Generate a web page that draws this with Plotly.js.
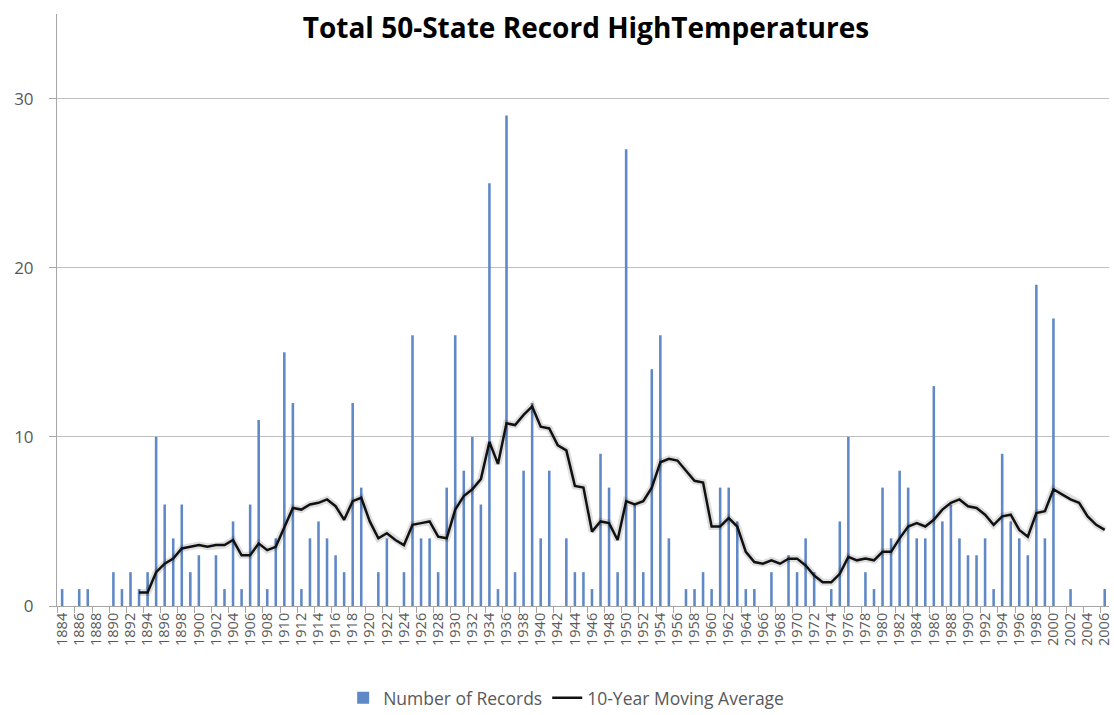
<!DOCTYPE html>
<html>
<head>
<meta charset="utf-8">
<script src="https://cdn.plot.ly/plotly-3.0.1.min.js"></script>
<style>html,body{margin:0;padding:0;background:#fff;}#chart{width:1114px;height:715px;}</style>
</head>
<body>
<div id="chart"></div>
<script>
const years = [1884,1885,1886,1887,1888,1889,1890,1891,1892,1893,1894,1895,1896,1897,1898,1899,
1900,1901,1902,1903,1904,1905,1906,1907,1908,1909,1910,1911,1912,1913,1914,1915,1916,1917,1918,1919,
1920,1921,1922,1923,1924,1925,1926,1927,1928,1929,1930,1931,1932,1933,1934,1935,1936,1937,1938,1939,
1940,1941,1942,1943,1944,1945,1946,1947,1948,1949,1950,1951,1952,1953,1954,1955,1956,1957,1958,1959,
1960,1961,1962,1963,1964,1965,1966,1967,1968,1969,1970,1971,1972,1973,1974,1975,1976,1977,1978,1979,
1980,1981,1982,1983,1984,1985,1986,1987,1988,1989,1990,1991,1992,1993,1994,1995,1996,1997,1998,1999,
2000,2001,2002,2003,2004,2005,2006];

const records = [1,0,1,1,0,0,2,1,2,1,2,10,6,4,6,2,
3,0,3,1,5,1,6,11,1,4,15,12,1,4,5,4,3,2,12,7,
0,2,4,0,2,16,4,4,2,7,16,8,10,6,25,1,29,2,8,12,
4,8,0,4,2,2,1,9,7,2,27,6,2,14,16,4,0,1,1,2,
1,7,7,5,1,1,0,2,0,3,2,4,2,0,1,5,10,0,2,1,
7,4,8,7,4,4,13,5,6,4,3,3,4,1,9,5,4,3,19,4,
17,0,1,0,0,0,1];

const movingAvg = [null,null,null,null,null,null,null,null,null,0.8,0.8,2.0,2.5,2.8,3.4,3.5,
3.6,3.5,3.6,3.6,3.9,3.0,3.0,3.7,3.3,3.5,4.6,5.8,5.7,6.0,6.1,6.3,5.9,5.1,6.2,6.4,
5.0,4.0,4.3,3.9,3.6,4.8,4.9,5.0,4.1,4.0,5.7,6.5,6.9,7.5,9.7,8.4,10.8,10.7,11.3,11.8,
10.6,10.5,9.5,9.2,7.1,7.0,4.4,5.0,4.9,3.9,6.2,6.0,6.2,7.0,8.5,8.7,8.6,8.0,7.4,7.3,
4.7,4.7,5.2,4.7,3.2,2.6,2.5,2.7,2.5,2.8,2.8,2.4,1.8,1.4,1.4,1.9,2.9,2.7,2.8,2.7,
3.2,3.2,4.0,4.7,4.9,4.7,5.1,5.7,6.1,6.3,5.9,5.8,5.4,4.8,5.3,5.4,4.5,4.1,5.5,5.6,
6.9,6.6,6.3,6.1,5.3,4.8,4.5];

const seriesNames = ["Number of Records", "10-Year Moving Average"];
const yTicks = [0, 10, 20, 30];
const chartTitle = "Total 50-State Record HighTemperatures";

const gray = "#595959";
const traces = [
  {type: "bar", x: years, y: records, name: seriesNames[0],
   marker: {color: "#5f88c6", line: {width: 0}}},
  {type: "scatter", mode: "lines", x: years, y: movingAvg, showlegend: false, hoverinfo: "skip",
   line: {color: "rgba(0,0,0,0.13)", width: 7}},
  {type: "scatter", mode: "lines", x: years, y: movingAvg, name: seriesNames[1],
   line: {color: "#111111", width: 2.5}}
];

const layout = {
  width: 1114, height: 715,
  margin: {l: 57, r: 5, t: 14, b: 109, autoexpand: false},
  paper_bgcolor: "#ffffff", plot_bgcolor: "#ffffff",
  font: {family: "Open Sans, Lato, sans-serif", color: gray},
  title: {text: "<b>" + chartTitle + "</b>", x: 0.526, xanchor: "center", y: 0.961, yanchor: "middle",
          font: {family: "Open Sans, sans-serif", size: 28, color: "#000"}},
  bargap: 0.7,
  showlegend: true,
  legend: {orientation: "h", x: 0.484, xanchor: "center", yref: "container", y: 0.024, yanchor: "middle",
           font: {size: 17.5, color: gray}, traceorder: "normal"},
  xaxis: {type: "category", dtick: 2, tickson: "boundaries", tickangle: -90,
          ticks: "outside", ticklen: 6, tickcolor: "#a6a6a6",
          showline: true, linecolor: "#a6a6a6", linewidth: 1,
          showgrid: false, zeroline: false, automargin: false,
          tickfont: {size: 14.5, color: gray}, range: [-0.6, 122.5]},
  yaxis: {range: [0, 35], tickvals: yTicks, ticktext: yTicks.map(String),
          ticks: "outside", ticklen: 7, tickcolor: "#a6a6a6",
          showline: true, linecolor: "#a6a6a6", linewidth: 1,
          showgrid: true, gridcolor: "#bfbfbf", gridwidth: 1, zeroline: false, automargin: false,
          tickfont: {size: 17, color: gray}, ticklabelstandoff: 12}
};

Plotly.newPlot("chart", traces, layout, {displayModeBar: false, staticPlot: true});
</script>
</body>
</html>
